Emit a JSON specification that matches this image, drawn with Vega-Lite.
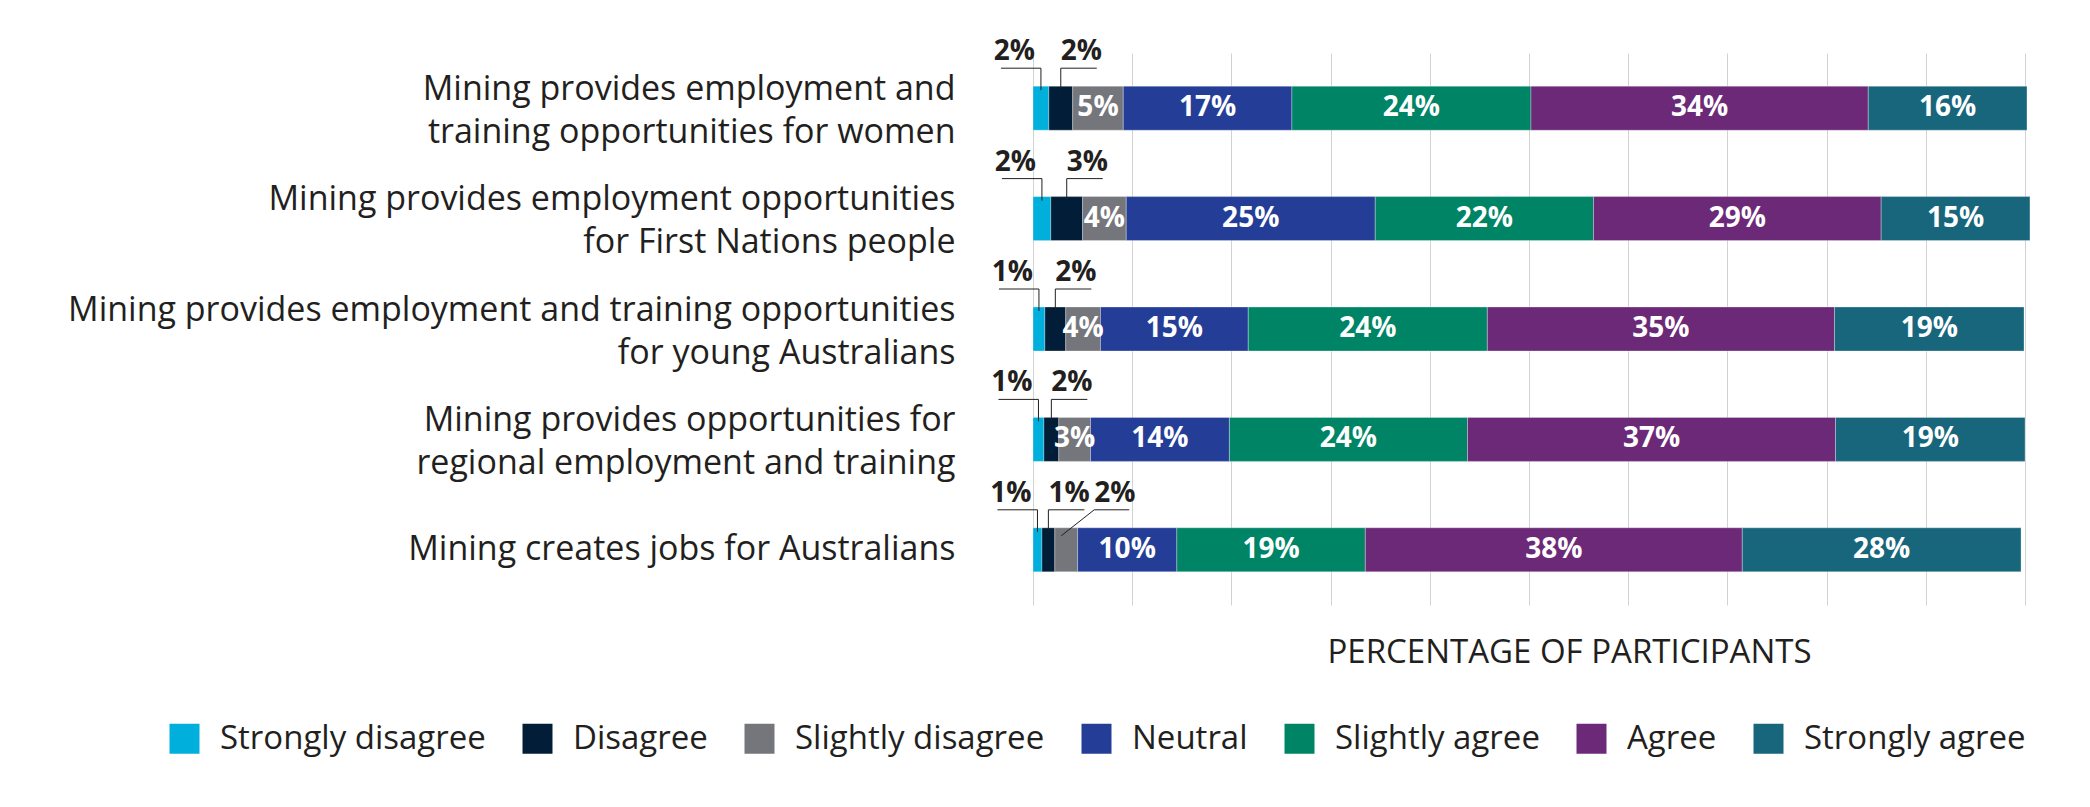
{
  "$schema": "https://vega.github.io/schema/vega-lite/v6.json",
  "width": 992,
  "height": 552,
  "autosize": "none",
  "padding": {"left": 1033, "top": 53, "right": 65, "bottom": 202},
  "background": "#ffffff",
  "data": {
    "values": [
      {"statement": "Mining provides employment and|training opportunities for women", "response": "Strongly disagree", "value": 1.6, "label": "2%"},
      {"statement": "Mining provides employment and|training opportunities for women", "response": "Disagree", "value": 2.4, "label": "2%"},
      {"statement": "Mining provides employment and|training opportunities for women", "response": "Slightly disagree", "value": 5.1, "label": "5%"},
      {"statement": "Mining provides employment and|training opportunities for women", "response": "Neutral", "value": 17.0, "label": "17%"},
      {"statement": "Mining provides employment and|training opportunities for women", "response": "Slightly agree", "value": 24.1, "label": "24%"},
      {"statement": "Mining provides employment and|training opportunities for women", "response": "Agree", "value": 34.0, "label": "34%"},
      {"statement": "Mining provides employment and|training opportunities for women", "response": "Strongly agree", "value": 16.0, "label": "16%"},
      {"statement": "Mining provides employment opportunities|for First Nations people", "response": "Strongly disagree", "value": 1.8, "label": "2%"},
      {"statement": "Mining provides employment opportunities|for First Nations people", "response": "Disagree", "value": 3.2, "label": "3%"},
      {"statement": "Mining provides employment opportunities|for First Nations people", "response": "Slightly disagree", "value": 4.4, "label": "4%"},
      {"statement": "Mining provides employment opportunities|for First Nations people", "response": "Neutral", "value": 25.1, "label": "25%"},
      {"statement": "Mining provides employment opportunities|for First Nations people", "response": "Slightly agree", "value": 22.0, "label": "22%"},
      {"statement": "Mining provides employment opportunities|for First Nations people", "response": "Agree", "value": 29.0, "label": "29%"},
      {"statement": "Mining provides employment opportunities|for First Nations people", "response": "Strongly agree", "value": 15.0, "label": "15%"},
      {"statement": "Mining provides employment and training opportunities|for young Australians", "response": "Strongly disagree", "value": 1.2, "label": "1%"},
      {"statement": "Mining provides employment and training opportunities|for young Australians", "response": "Disagree", "value": 2.1, "label": "2%"},
      {"statement": "Mining provides employment and training opportunities|for young Australians", "response": "Slightly disagree", "value": 3.5, "label": "4%"},
      {"statement": "Mining provides employment and training opportunities|for young Australians", "response": "Neutral", "value": 14.9, "label": "15%"},
      {"statement": "Mining provides employment and training opportunities|for young Australians", "response": "Slightly agree", "value": 24.1, "label": "24%"},
      {"statement": "Mining provides employment and training opportunities|for young Australians", "response": "Agree", "value": 35.0, "label": "35%"},
      {"statement": "Mining provides employment and training opportunities|for young Australians", "response": "Strongly agree", "value": 19.1, "label": "19%"},
      {"statement": "Mining provides opportunities for|regional employment and training", "response": "Strongly disagree", "value": 1.1, "label": "1%"},
      {"statement": "Mining provides opportunities for|regional employment and training", "response": "Disagree", "value": 1.5, "label": "2%"},
      {"statement": "Mining provides opportunities for|regional employment and training", "response": "Slightly disagree", "value": 3.2, "label": "3%"},
      {"statement": "Mining provides opportunities for|regional employment and training", "response": "Neutral", "value": 14.0, "label": "14%"},
      {"statement": "Mining provides opportunities for|regional employment and training", "response": "Slightly agree", "value": 24.0, "label": "24%"},
      {"statement": "Mining provides opportunities for|regional employment and training", "response": "Agree", "value": 37.1, "label": "37%"},
      {"statement": "Mining provides opportunities for|regional employment and training", "response": "Strongly agree", "value": 19.1, "label": "19%"},
      {"statement": "Mining creates jobs for Australians", "response": "Strongly disagree", "value": 0.9, "label": "1%"},
      {"statement": "Mining creates jobs for Australians", "response": "Disagree", "value": 1.3, "label": "1%"},
      {"statement": "Mining creates jobs for Australians", "response": "Slightly disagree", "value": 2.3, "label": "2%"},
      {"statement": "Mining creates jobs for Australians", "response": "Neutral", "value": 10.0, "label": "10%"},
      {"statement": "Mining creates jobs for Australians", "response": "Slightly agree", "value": 19.0, "label": "19%"},
      {"statement": "Mining creates jobs for Australians", "response": "Agree", "value": 38.0, "label": "38%"},
      {"statement": "Mining creates jobs for Australians", "response": "Strongly agree", "value": 28.1, "label": "28%"}
    ]
  },
  "transform": [
    {"calculate": "indexof(['Strongly disagree','Disagree','Slightly disagree','Neutral','Slightly agree','Agree','Strongly agree'], datum.response)", "as": "order"},
    {"stack": "value", "groupby": ["statement"], "sort": [{"field": "order", "order": "ascending"}], "as": ["x0", "x1"]},
    {"calculate": "(datum.x0 + datum.x1) / 2", "as": "mid"}
  ],
  "encoding": {
    "y": {
      "field": "statement",
      "type": "nominal",
      "sort": null,
      "scale": {"type": "point", "padding": 0.5},
      "axis": {
        "title": null,
        "domain": false,
        "ticks": false,
        "grid": false,
        "labelExpr": "split(datum.label, '|')",
        "labelFontSize": 34,
        "labelLineHeight": 43,
        "labelOffset": {"condition": {"test": "indexof(datum.value, '|') >= 0", "value": -19}, "value": 0},
        "labelPadding": 78,
        "labelLimit": 1000,
        "labelColor": "#231f20"
      }
    }
  },
  "layer": [
    {
      "mark": {"type": "bar", "height": 44, "stroke": "#ffffff", "strokeWidth": 0.5, "strokeOpacity": 0.6},
      "encoding": {
        "x": {
          "field": "x0",
          "type": "quantitative",
          "scale": {"domain": [0, 100], "nice": false, "zero": true},
          "title": "PERCENTAGE OF PARTICIPANTS",
          "axis": {
            "values": [0, 10, 20, 30, 40, 50, 60, 70, 80, 90, 100],
            "labels": false,
            "ticks": false,
            "domain": false,
            "grid": true,
            "gridColor": "#d2d2d2",
            "gridWidth": 1,
            "titleFontSize": 33,
            "titleFontWeight": "normal",
            "titleColor": "#231f20",
            "titleX": 536,
            "titleY": 57,
            "titleAlign": "center",
            "titleBaseline": "alphabetic"
          }
        },
        "x2": {"field": "x1"},
        "color": {
          "field": "response",
          "type": "nominal",
          "scale": {
            "domain": ["Strongly disagree", "Disagree", "Slightly disagree", "Neutral", "Slightly agree", "Agree", "Strongly agree"],
            "range": ["#00afdb", "#021d37", "#75767b", "#243e97", "#008466", "#6b2977", "#17667c"]
          },
          "legend": {
            "title": null,
            "orient": "none",
            "legendX": -865,
            "legendY": 669,
            "direction": "horizontal",
            "columns": 7,
            "symbolType": "square",
            "symbolSize": 900,
            "symbolStrokeWidth": 0,
            "labelFontSize": 33,
            "labelOffset": 19,
            "labelColor": "#231f20",
            "labelLimit": 400,
            "columnPadding": 35
          }
        }
      }
    },
    {
      "transform": [{"filter": "datum.order >= 3 || (datum.order == 2 && datum.value >= 2.5)"}],
      "mark": {"type": "text", "color": "#ffffff", "fontWeight": "bold", "fontSize": 28, "baseline": "middle"},
      "encoding": {
        "x": {"field": "mid", "type": "quantitative", "title": "PERCENTAGE OF PARTICIPANTS"},
        "text": {"field": "label", "type": "nominal"}
      }
    },
    {
      "transform": [{"filter": "datum.order == 0"}],
      "mark": {"type": "text", "color": "#231f20", "fontWeight": "bold", "fontSize": 28, "align": "right", "baseline": "alphabetic", "dx": -6, "dy": -48},
      "encoding": {
        "x": {"field": "mid", "type": "quantitative", "title": "PERCENTAGE OF PARTICIPANTS"},
        "text": {"field": "label", "type": "nominal"}
      }
    },
    {
      "transform": [{"filter": "datum.order == 1"}],
      "mark": {"type": "text", "color": "#231f20", "fontWeight": "bold", "fontSize": 28, "align": "left", "baseline": "alphabetic", "dx": 0, "dy": -48},
      "encoding": {
        "x": {"field": "mid", "type": "quantitative", "title": "PERCENTAGE OF PARTICIPANTS"},
        "text": {"field": "label", "type": "nominal"}
      }
    },
    {
      "transform": [{"filter": "datum.order == 2 && datum.value < 2.5"}],
      "mark": {"type": "text", "color": "#231f20", "fontWeight": "bold", "fontSize": 28, "align": "left", "baseline": "alphabetic", "dx": 28, "dy": -48},
      "encoding": {
        "x": {"field": "mid", "type": "quantitative", "title": "PERCENTAGE OF PARTICIPANTS"},
        "text": {"field": "label", "type": "nominal"}
      }
    },
    {
      "transform": [{"filter": "datum.order == 0"}],
      "mark": {"type": "rule", "color": "#231f20", "strokeWidth": 1, "xOffset": -40, "yOffset": -40},
      "encoding": {
        "x": {"field": "mid", "type": "quantitative", "title": "PERCENTAGE OF PARTICIPANTS"},
        "x2": {"field": "mid"}
      }
    },
    {
      "transform": [{"filter": "datum.order == 1"}],
      "mark": {"type": "rule", "color": "#231f20", "strokeWidth": 1, "x2Offset": 36, "yOffset": -40},
      "encoding": {
        "x": {"field": "mid", "type": "quantitative", "title": "PERCENTAGE OF PARTICIPANTS"},
        "x2": {"field": "mid"}
      }
    },
    {
      "transform": [{"filter": "datum.order <= 1"}],
      "mark": {"type": "rule", "color": "#231f20", "strokeWidth": 1, "yOffset": -40, "y2Offset": -18},
      "encoding": {
        "x": {"field": "mid", "type": "quantitative", "title": "PERCENTAGE OF PARTICIPANTS"},
        "y2": {"field": "statement"}
      }
    },
    {
      "transform": [{"filter": "datum.order == 2 && datum.value < 2.5"}],
      "mark": {"type": "rule", "color": "#231f20", "strokeWidth": 1, "xOffset": -5, "x2Offset": 28, "yOffset": -14, "y2Offset": -40},
      "encoding": {
        "x": {"field": "mid", "type": "quantitative", "title": "PERCENTAGE OF PARTICIPANTS"},
        "x2": {"field": "mid"},
        "y2": {"field": "statement"}
      }
    },
    {
      "transform": [{"filter": "datum.order == 2 && datum.value < 2.5"}],
      "mark": {"type": "rule", "color": "#231f20", "strokeWidth": 1, "xOffset": 28, "x2Offset": 63, "yOffset": -40},
      "encoding": {
        "x": {"field": "mid", "type": "quantitative", "title": "PERCENTAGE OF PARTICIPANTS"},
        "x2": {"field": "mid"}
      }
    }
  ],
  "config": {
    "font": "Open Sans",
    "view": {"stroke": null}
  }
}
